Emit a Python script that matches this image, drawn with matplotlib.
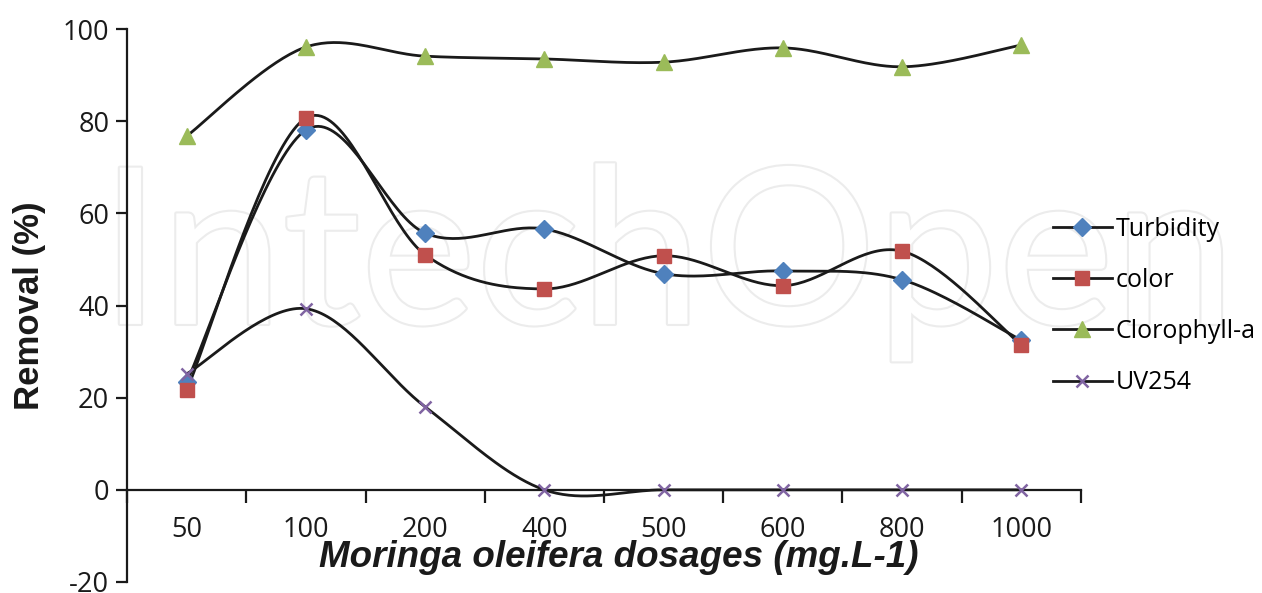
import numpy as np
import matplotlib
matplotlib.use("Agg")
import matplotlib.pyplot as plt
from matplotlib.lines import Line2D
import matplotlib.patheffects as pe

plt.rcParams["axes.unicode_minus"] = False

# ---- data ----
dosages = ["50", "100", "200", "400", "500", "600", "800", "1000"]
turbidity = [23.5, 78.1, 55.7, 56.6, 46.9, 47.5, 45.6, 32.5]
color = [21.7, 80.7, 51.0, 43.6, 50.8, 44.3, 51.8, 31.5]
clorophyll = [76.8, 96.1, 94.1, 93.5, 92.8, 95.9, 91.8, 96.5]
uv254 = [25.2, 39.3, 18.0, 0.0, 0.0, 0.0, 0.0, 0.0]

series = [
    ("Turbidity", turbidity, "D", "#4F81BD", 9.5),
    ("color", color, "s", "#C0504D", 10),
    ("Clorophyll-a", clorophyll, "^", "#9BBB59", 11),
    ("UV254", uv254, "x", "#8064A2", 9),
]

TICK_FONT = "Open Sans"
INK = "#1a1a1a"


def smooth(x, y, n=40):
    # lissage facon Excel (Catmull-Rom en segments de Bezier cubiques)
    x = np.asarray(x, float)
    y = np.asarray(y, float)
    px = np.concatenate([[x[0]], x, [x[-1]]])
    py = np.concatenate([[y[0]], y, [y[-1]]])
    t = np.linspace(0, 1, n)[:, None]
    xs, ys = [], []
    for i in range(1, len(px) - 2):
        p0 = np.array([px[i], py[i]])
        p3 = np.array([px[i + 1], py[i + 1]])
        c1 = p0 + (p3 - np.array([px[i - 1], py[i - 1]])) / 6
        c2 = p3 - (np.array([px[i + 2], py[i + 2]]) - p0) / 6
        b = ((1 - t) ** 3) * p0 + 3 * ((1 - t) ** 2) * t * c1 + 3 * (1 - t) * t ** 2 * c2 + t ** 3 * p3
        xs.append(b[:, 0])
        ys.append(b[:, 1])
    return np.concatenate(xs), np.concatenate(ys)


fig = plt.figure(figsize=(12.62, 5.93), dpi=100)
ax = fig.add_axes([127.3 / 1262, 1 - 582 / 593, (1080.7 - 127.3) / 1262, (582 - 29) / 593])

# filigrane
ax.text(-0.73, 36.0, "IntechOpen", fontsize=157, family="Lato", color="white",
        ha="left", va="baseline", zorder=0,
        path_effects=[pe.withStroke(linewidth=3, foreground="#ececec")])

xpos = np.arange(len(dosages))
handles = []
for name, vals, mk, col, ms in series:
    sx, sy = smooth(xpos, vals)
    ax.plot(sx, sy, color=INK, lw=2.0, zorder=3, solid_capstyle="round")
    if mk == "x":
        ax.plot(xpos, vals, ls="none", marker=mk, color=col, ms=ms, mew=1.8, zorder=4)
    else:
        ax.plot(xpos, vals, ls="none", marker=mk, color=col, ms=ms, mec=col, zorder=4)
    handles.append(Line2D([], [], color=INK, lw=2.0, marker=mk, ms=ms,
                          mfc=col, mec=col, mew=1.8 if mk == "x" else 1.0, label=name))

ax.set_xlim(-0.5, len(dosages) - 0.5)
ax.set_ylim(-20, 100)
ax.set_yticks(np.arange(-20, 101, 20))

ax.spines["top"].set_visible(False)
ax.spines["right"].set_visible(False)
ax.spines["bottom"].set_position(("data", 0))
for s in ("left", "bottom"):
    ax.spines[s].set_linewidth(1.6)
    ax.spines[s].set_color(INK)

# graduations entre categories, etiquettes sous les points
ax.set_xticks(np.arange(-0.5, len(dosages), 1.0))
ax.set_xticklabels([])
ax.set_xticks(xpos, minor=True)
ax.set_xticklabels(dosages, minor=True)
ax.tick_params(axis="x", which="major", direction="out", length=9, width=1.6, color=INK)
ax.tick_params(axis="x", which="minor", length=0, pad=19, labelsize=19.5)
ax.tick_params(axis="y", direction="out", length=8, width=1.6, color=INK, labelsize=19.5, pad=5)
for lab in ax.get_xticklabels(minor=True) + ax.get_yticklabels():
    lab.set_family(TICK_FONT)
    lab.set_color(INK)

ax.set_ylabel("Removal (%)", family="Liberation Sans", fontweight="bold", fontsize=25,
              labelpad=12, color=INK)
ax.text(3.62, -14.6, "Moringa oleifera dosages (mg.L-1)",
        family=["Liberation Sans Narrow", "Liberation Sans"], fontweight="bold", style="italic",
        fontsize=26.5, ha="center", va="center", color=INK)

fig.legend(handles=handles, loc="center left", bbox_to_anchor=(1053 / 1262, 1 - 306 / 593),
           frameon=False, prop={"family": TICK_FONT, "size": 18}, handlelength=2.35,
           handletextpad=0.15, labelspacing=1.05, borderpad=0, borderaxespad=0)

fig.savefig("out.png", dpi=100)
